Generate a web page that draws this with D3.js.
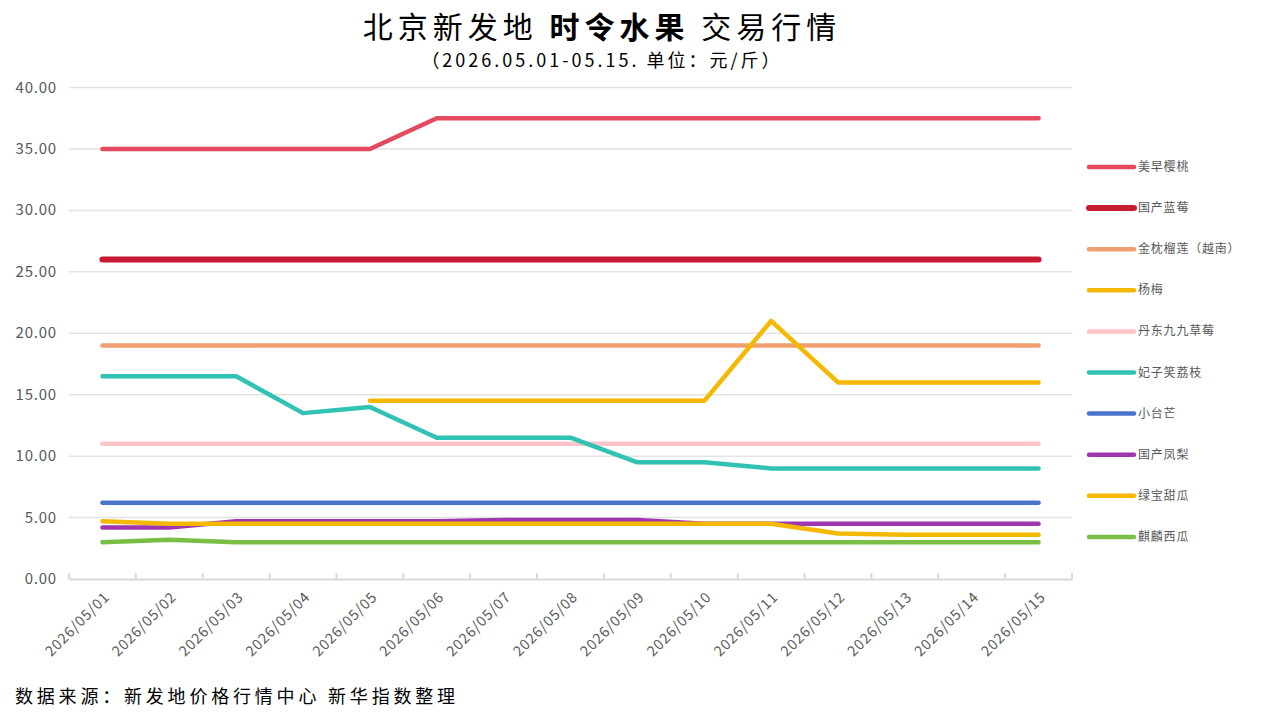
<!DOCTYPE html>
<html><head><meta charset="utf-8">
<script src="https://cdn.jsdelivr.net/npm/d3@7"></script>
<style>
body{margin:0;background:#fff;}
svg{display:block;}
text{font-family:"Noto Sans CJK SC","Noto Sans",sans-serif;}
</style></head>
<body><svg id="c" width="1261" height="716"></svg>
<script>
const dates = ["2026/05/01","2026/05/02","2026/05/03","2026/05/04","2026/05/05","2026/05/06","2026/05/07","2026/05/08","2026/05/09","2026/05/10","2026/05/11","2026/05/12","2026/05/13","2026/05/14","2026/05/15"];
const yTicks = [0,5,10,15,20,25,30,35,40];
const seriesNames = ["美早樱桃","国产蓝莓","金枕榴莲（越南）","杨梅","丹东九九草莓","妃子笑荔枝","小台芒","国产凤梨","绿宝甜瓜","麒麟西瓜"];
const seriesColors = ["#E34A5E","#C81A32","#F0A070","#F5B800","#FFC5C8","#30C2B4","#4874CB","#A035B0","#F5B800","#7BBE46"];
const meiZaoYingTao = [35,35,35,35,35,37.5,37.5,37.5,37.5,37.5,37.5,37.5,37.5,37.5,37.5];
const guoChanLanMei = [26,26,26,26,26,26,26,26,26,26,26,26,26,26,26];
const jinZhenLiuLian = [19,19,19,19,19,19,19,19,19,19,19,19,19,19,19];
const yangMei = [null,null,null,null,14.5,14.5,14.5,14.5,14.5,14.5,21,16,16,16,16];
const danDongCaoMei = [11,11,11,11,11,11,11,11,11,11,11,11,11,11,11];
const feiZiXiaoLiZhi = [16.5,16.5,16.5,13.5,14,11.5,11.5,11.5,9.5,9.5,9,9,9,9,9];
const xiaoTaiMang = [6.2,6.2,6.2,6.2,6.2,6.2,6.2,6.2,6.2,6.2,6.2,6.2,6.2,6.2,6.2];
const guoChanFengLi = [4.2,4.2,4.7,4.7,4.7,4.7,4.8,4.8,4.8,4.5,4.5,4.5,4.5,4.5,4.5];
const lvBaoTianGua = [4.7,4.5,4.5,4.5,4.5,4.5,4.5,4.5,4.5,4.5,4.5,3.7,3.6,3.6,3.6];
const qiLinXiGua = [3.0,3.2,3.0,3.0,3.0,3.0,3.0,3.0,3.0,3.0,3.0,3.0,3.0,3.0,3.0];
const seriesValues = [meiZaoYingTao,guoChanLanMei,jinZhenLiuLian,yangMei,danDongCaoMei,feiZiXiaoLiZhi,xiaoTaiMang,guoChanFengLi,lvBaoTianGua,qiLinXiGua];
const seriesWidths = [4.5,6,4.5,4.5,4.5,4.5,4.5,4.5,4.5,4.5];

const svg = d3.select("#c");
const x = d3.scaleBand().domain(dates).range([69,1072]);
const y = d3.scaleLinear().domain([0,40]).range([579,87.5]);

// title
svg.append("text").attr("x",602).attr("y",38).attr("text-anchor","middle")
  .attr("font-size",30).attr("letter-spacing",5).attr("fill","#000")
  .html('北京新发地 <tspan font-weight="bold">时令水果</tspan> 交易行情');
svg.append("text").attr("x",602).attr("y",67).attr("text-anchor","middle")
  .attr("font-size",18).attr("letter-spacing",3).attr("fill","#000").text("（2026.05.01-05.15. 单位：元/斤）");

// grid
svg.append("g").selectAll("line").data(yTicks.filter(d=>d>0)).join("line")
  .attr("x1",69).attr("x2",1072).attr("y1",d=>y(d)).attr("y2",d=>y(d))
  .attr("stroke","#E2E2E2").attr("stroke-width",1.5);

// y labels
svg.append("g").selectAll("text").data(yTicks).join("text")
  .attr("x",57).attr("y",d=>y(d)+5).attr("text-anchor","end")
  .attr("font-size",15).attr("letter-spacing",0.8).attr("fill","#595959").text(d=>d3.format(".2f")(d));

// x axis
const xAxis = d3.axisBottom(x).tickSize(0).tickFormat("");
const gx = svg.append("g").attr("transform","translate(0,579)").call(xAxis);
gx.select(".domain").attr("stroke","#D9D9D9").attr("stroke-width",2);
const bounds = dates.map(d=>x(d)).concat([x.range()[1]]);
svg.append("g").selectAll("line").data(bounds).join("line")
  .attr("x1",d=>d).attr("x2",d=>d).attr("y1",573).attr("y2",579)
  .attr("stroke","#D9D9D9").attr("stroke-width",2);
svg.append("g").selectAll("text").data(dates).join("text")
  .attr("transform",d=>`translate(${x(d)+x.bandwidth()/2+8},598) rotate(-45)`)
  .attr("text-anchor","end").attr("font-size",14.5).attr("letter-spacing",0.8).attr("fill","#595959").text(d=>d);

// lines
const line = d3.line().defined(d=>d.v!=null)
  .x(d=>x(d.d)+x.bandwidth()/2).y(d=>y(d.v)).curve(d3.curveLinear);
seriesValues.forEach((vals,i)=>{
  svg.append("path").datum(vals.map((v,j)=>({d:dates[j],v})))
    .attr("d",line).attr("fill","none").attr("stroke",seriesColors[i])
    .attr("stroke-width",seriesWidths[i]).attr("stroke-linecap","round").attr("stroke-linejoin","round");
});

// legend
const lg = svg.append("g").selectAll("g").data(seriesNames).join("g")
  .attr("transform",(d,i)=>`translate(1089,${167+i*41.1})`);
lg.append("line").attr("x1",0).attr("x2",45).attr("y1",0).attr("y2",0)
  .attr("stroke",(d,i)=>seriesColors[i]).attr("stroke-width",(d,i)=>seriesWidths[i]).attr("stroke-linecap","round");
lg.append("text").attr("x",49).attr("y",4).attr("font-size",12).attr("letter-spacing",0.8).attr("fill","#595959").text(d=>d);

// footer
svg.append("text").attr("x",15).attr("y",703).attr("font-size",18).attr("letter-spacing",3.8).attr("fill","#000")
  .text("数据来源：新发地价格行情中心 新华指数整理");
</script></body></html>
